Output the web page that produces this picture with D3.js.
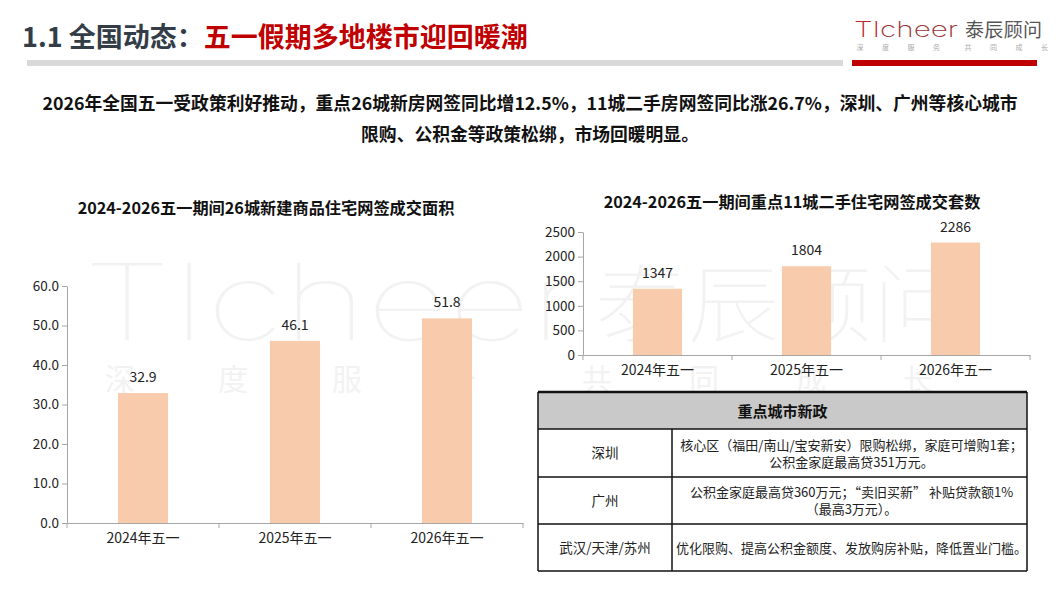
<!DOCTYPE html>
<html>
<head>
<meta charset="utf-8">
<script src="https://cdn.jsdelivr.net/npm/d3@7"></script>
<style>
  body { margin: 0; background: #fff; }
  svg { display: block; }
</style>
</head>
<body>
<div id="slide"></div>
<script>
// ---- data ----
var categories = ["2024年五一", "2025年五一", "2026年五一"];
var areaValues = [32.9, 46.1, 51.8];          // 26城新建商品住宅网签成交面积
var areaTicks = [0, 10, 20, 30, 40, 50, 60];
var unitValues = [1347, 1804, 2286];          // 重点11城二手住宅网签成交套数
var unitTicks = [0, 500, 1000, 1500, 2000, 2500];

var tableCities = ["深圳", "广州", "武汉/天津/苏州"];
var tablePolicies = [
  ["核心区（福田/南山/宝安新安）限购松绑，家庭可增购1套；", "公积金家庭最高贷351万元。"],
  ["公积金家庭最高贷360万元；“卖旧买新” 补贴贷款额1%", "（最高3万元）。"],
  ["优化限购、提高公积金额度、发放购房补贴，降低置业门槛。"]
];

var W = 1064, H = 599;
var CJK = "'Noto Sans CJK SC', 'Noto Sans', sans-serif";
var barColor = "#F8CBAD";
var axisColor = "#a6a6a6";

var svg = d3.select("#slide").append("svg")
  .attr("width", W)
  .attr("height", H);

// ---- watermark (behind everything) ----
var wm = svg.append("g").attr("class", "watermark");
wm.append("text")
  .attr("x", 83).attr("y", 340)
  .attr("textLength", 494)
  .attr("lengthAdjust", "spacingAndGlyphs")
  .style("font-family", "Inter, Lato, sans-serif")
  .style("font-weight", 100)
  .style("font-size", "106px")
  .style("fill", "#f2f2f2")
  .text("TIcheer");
wm.append("text")
  .attr("x", 595).attr("y", 336)
  .attr("textLength", 370)
  .attr("lengthAdjust", "spacingAndGlyphs")
  .style("font-family", CJK)
  .style("font-weight", 100)
  .style("font-size", "86px")
  .style("fill", "#f2f2f2")
  .text("泰辰顾问");
var wmSmall = ["深", "度", "服", "务", "共", "同", "成", "长"];
var wmX = [120, 233, 347, 461, 597, 704, 811, 918];
wm.selectAll("text.small").data(wmSmall).enter()
  .append("text")
  .attr("class", "small")
  .attr("x", function(d, i) { return wmX[i]; })
  .attr("y", 390)
  .attr("text-anchor", "middle")
  .style("font-family", CJK)
  .style("font-size", "30px")
  .style("fill", "#f2f2f2")
  .text(function(d) { return d; });

// ---- header ----
var title = svg.append("text")
  .attr("x", 22).attr("y", 47)
  .style("font-family", CJK)
  .style("font-weight", "bold")
  .style("font-size", "27px");
title.append("tspan").style("fill", "#333d47").text("1.1 全国动态：");
title.append("tspan").style("fill", "#c00000").text("五一假期多地楼市迎回暖潮");

svg.append("rect").attr("x", 27).attr("y", 60).attr("width", 816).attr("height", 6).style("fill", "#d9d9d9");
svg.append("rect").attr("x", 852).attr("y", 60).attr("width", 185).attr("height", 6).style("fill", "#c00000");

// logo
var logo = svg.append("text")
  .attr("x", 854).attr("y", 37)
  .attr("textLength", 104)
  .attr("lengthAdjust", "spacingAndGlyphs")
  .style("font-family", "Inter, Lato, sans-serif")
  .style("font-weight", 200)
  .style("font-size", "21px");
logo.append("tspan").style("fill", "#c0272d").text("TI");
logo.append("tspan").style("fill", "#9a3434").text("cheer");
svg.append("text")
  .attr("x", 965).attr("y", 37)
  .attr("textLength", 77)
  .style("font-family", CJK)
  .style("font-size", "19px")
  .style("fill", "#555")
  .text("泰辰顾问");
var tagline = ["深", "度", "服", "务", "共", "同", "成", "长"];
svg.selectAll("text.tag").data(tagline).enter()
  .append("text")
  .attr("class", "tag")
  .attr("x", function(d, i) { return 860 + i * 25.5 + (i > 3 ? 6 : 0); })
  .attr("y", 50)
  .attr("text-anchor", "middle")
  .style("font-family", CJK)
  .style("font-size", "7px")
  .style("fill", "#aaa")
  .text(function(d) { return d; });

// ---- summary ----
var summary = [
  "2026年全国五一受政策利好推动，重点26城新房网签同比增12.5%，11城二手房网签同比涨26.7%，深圳、广州等核心城市",
  "限购、公积金等政策松绑，市场回暖明显。"
];
svg.selectAll("text.summary").data(summary).enter()
  .append("text")
  .attr("class", "summary")
  .attr("x", 530)
  .attr("y", function(d, i) { return 110 + i * 31; })
  .attr("text-anchor", "middle")
  .style("font-family", CJK)
  .style("font-weight", "bold")
  .style("font-size", "17.8px")
  .style("fill", "#111")
  .text(function(d) { return d; });

// ---- bar chart helper ----
function drawBarChart(opt) {
  var g = svg.append("g");

  var x = d3.scaleBand().domain(categories).range(opt.xRange).padding(0);
  var y = d3.scaleLinear().domain([0, opt.ticks[opt.ticks.length - 1]]).range(opt.yRange);

  g.append("text")
    .attr("x", opt.titleX).attr("y", opt.titleY)
    .attr("text-anchor", "middle")
    .style("font-family", CJK)
    .style("font-weight", "bold")
    .style("font-size", "16.2px")
    .style("fill", "#111")
    .text(opt.title);

  // y axis
  var yAxis = g.append("g")
    .attr("transform", "translate(" + opt.xRange[0] + ",0)")
    .call(d3.axisLeft(y).tickValues(opt.ticks).tickFormat(opt.format).tickSize(5).tickSizeOuter(0).tickPadding(3));
  yAxis.select(".domain").attr("stroke", axisColor);
  yAxis.selectAll(".tick line").attr("stroke", axisColor);
  yAxis.selectAll("text")
    .style("font-family", CJK)
    .style("font-size", "13.5px")
    .style("fill", "#222");

  // bars
  var bw = x.bandwidth() * 0.33;
  g.selectAll("rect.bar").data(opt.values).enter()
    .append("rect")
    .attr("class", "bar")
    .attr("x", function(d, i) { return x(categories[i]) + x.bandwidth() / 2 - bw / 2; })
    .attr("y", function(d) { return y(d); })
    .attr("width", bw)
    .attr("height", function(d) { return y(0) - y(d); })
    .style("fill", barColor);

  g.selectAll("text.val").data(opt.values).enter()
    .append("text")
    .attr("class", "val")
    .attr("x", function(d, i) { return x(categories[i]) + x.bandwidth() / 2; })
    .attr("y", function(d) { return y(d) - 11; })
    .attr("text-anchor", "middle")
    .style("font-family", CJK)
    .style("font-size", "14px")
    .style("fill", "#222")
    .text(function(d) { return opt.format(d); });

  // x axis
  var xAxis = g.append("g")
    .attr("transform", "translate(0," + y(0) + ")")
    .call(d3.axisBottom(x).tickSize(0).tickSizeOuter(0).tickPadding(opt.xPad));
  xAxis.select(".domain").attr("stroke", axisColor);
  xAxis.selectAll("text")
    .style("font-family", CJK)
    .style("font-size", "14px")
    .style("fill", "#222");

  // boundary ticks
  var bounds = categories.map(function(c) { return x(c); }).concat([x.range()[1]]);
  g.selectAll("line.bound").data(bounds).enter()
    .append("line")
    .attr("class", "bound")
    .attr("x1", function(d) { return d; }).attr("x2", function(d) { return d; })
    .attr("y1", y(0)).attr("y2", y(0) + 5)
    .attr("stroke", axisColor);
}

drawBarChart({
  title: "2024-2026五一期间26城新建商品住宅网签成交面积",
  titleX: 266, titleY: 214,
  values: areaValues, ticks: areaTicks,
  format: d3.format(".1f"),
  xRange: [67, 523], yRange: [523, 286],
  xPad: 10
});

drawBarChart({
  title: "2024-2026五一期间重点11城二手住宅网签成交套数",
  titleX: 792, titleY: 208,
  values: unitValues, ticks: unitTicks,
  format: d3.format("d"),
  xRange: [583, 1030], yRange: [355, 232],
  xPad: 10
});

// ---- policy table ----
var tx = [538, 672, 1027];
var ty = [392, 429, 477, 524, 571];
var tg = svg.append("g");

tg.append("rect")
  .attr("x", tx[0]).attr("y", ty[0])
  .attr("width", tx[2] - tx[0]).attr("height", ty[1] - ty[0])
  .style("fill", "#c9c9c9");
tg.append("rect")
  .attr("x", tx[0]).attr("y", ty[1])
  .attr("width", tx[2] - tx[0]).attr("height", ty[4] - ty[1])
  .style("fill", "#fff");

tg.append("text")
  .attr("x", (tx[0] + tx[2]) / 2).attr("y", ty[0] + 25)
  .attr("text-anchor", "middle")
  .style("font-family", CJK)
  .style("font-weight", "bold")
  .style("font-size", "15px")
  .style("fill", "#111")
  .text("重点城市新政");

tableCities.forEach(function(city, i) {
  var top = ty[i + 1], bot = ty[i + 2], mid = (top + bot) / 2;
  tg.append("text")
    .attr("x", (tx[0] + tx[1]) / 2).attr("y", mid + 5)
    .attr("text-anchor", "middle")
    .style("font-family", CJK)
    .style("font-size", "13.5px")
    .style("fill", "#222")
    .text(city);
  var lines = tablePolicies[i];
  lines.forEach(function(line, j) {
    tg.append("text")
      .attr("x", (tx[1] + tx[2]) / 2 + 2)
      .attr("y", mid + 5 + (j - (lines.length - 1) / 2) * 17)
      .attr("text-anchor", "middle")
      .style("font-family", CJK)
      .style("font-size", "13px")
      .style("fill", "#222")
      .text(line);
  });
});

// grid lines
ty.forEach(function(yy, i) {
  tg.append("line")
    .attr("x1", tx[0]).attr("x2", tx[2])
    .attr("y1", yy).attr("y2", yy)
    .attr("stroke", "#111")
    .attr("stroke-width", i === 0 ? 2.5 : 1.5);
});
tg.append("line")
  .attr("x1", tx[0]).attr("x2", tx[0]).attr("y1", ty[0]).attr("y2", ty[4])
  .attr("stroke", "#111").attr("stroke-width", 1.5);
tg.append("line")
  .attr("x1", tx[2]).attr("x2", tx[2]).attr("y1", ty[0]).attr("y2", ty[4])
  .attr("stroke", "#111").attr("stroke-width", 1.5);
tg.append("line")
  .attr("x1", tx[1]).attr("x2", tx[1]).attr("y1", ty[1]).attr("y2", ty[4])
  .attr("stroke", "#111").attr("stroke-width", 1.5);
</script>
</body>
</html>
